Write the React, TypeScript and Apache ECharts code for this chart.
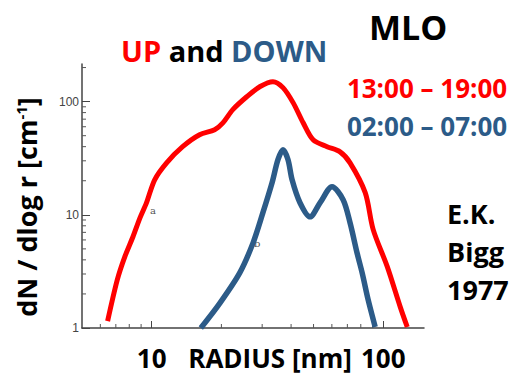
import React, { useEffect, useRef } from "react";
import * as echarts from "echarts";

// UP (13:00 – 19:00) size distribution
const upRadius = [6.45, 7.1, 7.65, 8.3, 8.9, 9.5, 10.3, 11.6, 13.6, 16.1, 18.7, 20.3, 22.4, 25.8, 29.4, 33.4, 36.9, 40.8, 45.1, 49.8, 57.2, 65.1, 71.9, 83.6, 90.5, 104, 118.5, 127];
const upDensity = [1.15, 2.66, 4.25, 6.4, 9.4, 12.8, 20.4, 28.8, 40, 51, 56.5, 65, 85, 111, 136, 150, 133, 98, 65, 46, 40, 36, 28.8, 15.7, 7.4, 3.5, 1.53, 1.02];

// DOWN (02:00 – 07:00) size distribution
const downRadius = [16.3, 19.7, 24.0, 27.4, 30.2, 33.1, 35.1, 36.9, 38.8, 40.4, 43.7, 48.3, 53.4, 60.1, 67.1, 71.9, 77.1, 81.1, 86.1, 92.3];
const downDensity = [1.0, 1.66, 3.07, 5.65, 10.4, 19.2, 30.7, 37.6, 30.7, 20.4, 12.8, 9.6, 12.8, 17.7, 13.6, 8.5, 4.6, 3.07, 1.77, 1.02];

// axes
const xMin = 5;
const xMax = 150;
const yMin = 1;
const yMax = 215;
const xMinorTicks = [6, 7, 8, 9, 20, 30, 40, 50, 60, 70, 80, 90];
const yMinorTicks = [2, 3, 4, 5, 6, 7, 8, 9, 20, 30, 40, 50, 60, 70, 80, 90, 200];

const RED = "#ff0000";
const BLUE = "#2c5b88";
const FONT = "'Open Sans', 'Liberation Sans', sans-serif";

export default function App() {
  const ref = useRef<HTMLDivElement>(null);

  useEffect(() => {
    document.body.style.margin = "0";
    const chart = echarts.init(ref.current!, null, { renderer: "svg" });
    const tickData = [
      ...xMinorTicks.map((v) => [v, yMin, 0]),
      ...yMinorTicks.map((v) => [xMin, v, 1]),
    ];
    chart.setOption({
      animation: false,
      backgroundColor: "#ffffff",
      grid: { left: 82, right: 102, top: 64, bottom: 48, outerBoundsMode: "none" },
      xAxis: {
        type: "log",
        logBase: 10,
        min: xMin,
        max: xMax,
        name: "RADIUS [nm]",
        nameLocation: "middle",
        nameGap: 30,
        nameMoveOverlap: false,
        nameTextStyle: {
          fontFamily: FONT,
          fontWeight: "bold",
          fontSize: 26,
          lineHeight: 26,
          color: "#000",
          verticalAlign: "middle",
          padding: [0, 0, 0, 34],
        },
        axisLine: { lineStyle: { color: "#444", width: 1.5 } },
        axisTick: { inside: true, length: 7, lineStyle: { color: "#444", width: 1 } },
        axisLabel: {
          showMinLabel: false,
          showMaxLabel: false,
          fontFamily: FONT,
          fontWeight: "bold",
          fontSize: 26,
          lineHeight: 26,
          color: "#000",
          verticalAlign: "middle",
          margin: 30,
        },
        splitLine: { show: false },
      },
      yAxis: {
        type: "log",
        logBase: 10,
        min: yMin,
        max: yMax,
        name: "{m|dN / dlog r [cm}{s|-1}{m|]}",
        nameLocation: "middle",
        nameGap: 42,
        nameMoveOverlap: false,
        nameTextStyle: {
          fontFamily: FONT,
          fontWeight: "bold",
          fontSize: 27,
          color: "#000",
          padding: [0, 22, 0, 0],
          rich: {
            m: { fontFamily: FONT, fontWeight: "bold", fontSize: 27, color: "#000" },
            s: { fontFamily: FONT, fontWeight: "bold", fontSize: 15, color: "#000", padding: [0, 0, 12, 0] },
          },
        },
        axisLine: { lineStyle: { color: "#444", width: 1.5 } },
        axisTick: { inside: true, length: 8, lineStyle: { color: "#444", width: 1 } },
        axisLabel: {
          showMaxLabel: false,
          fontFamily: "'Liberation Sans Narrow', 'Liberation Sans', sans-serif",
          fontSize: 12,
          color: "#444",
          margin: 3,
        },
        splitLine: { show: false },
      },
      graphic: [
        {
          type: "text",
          x: 121,
          y: 50,
          style: {
            text: "{r|UP} {k|and} {b|DOWN}",
            fontFamily: FONT,
            fontWeight: "bold",
            fontSize: 29,
            fill: "#000",
            verticalAlign: "middle",
            textVerticalAlign: "middle",
            rich: {
              r: { fill: RED, fontFamily: FONT, fontWeight: "bold", fontSize: 29 },
              k: { fill: "#000", fontFamily: FONT, fontWeight: "bold", fontSize: 29 },
              b: { fill: BLUE, fontFamily: FONT, fontWeight: "bold", fontSize: 29 },
            },
          },
        },
        {
          type: "text",
          x: 369,
          y: 27,
          style: { text: "MLO", fontFamily: FONT, fontWeight: "bold", fontSize: 34, fill: "#000", verticalAlign: "middle", textVerticalAlign: "middle" },
        },
        {
          type: "text",
          x: 427,
          y: 88,
          style: { text: "13:00 – 19:00", fontFamily: FONT, fontWeight: "bold", fontSize: 26, fill: RED, align: "center", textAlign: "center", verticalAlign: "middle", textVerticalAlign: "middle" },
        },
        {
          type: "text",
          x: 427,
          y: 126,
          style: { text: "02:00 – 07:00", fontFamily: FONT, fontWeight: "bold", fontSize: 26, fill: BLUE, align: "center", textAlign: "center", verticalAlign: "middle", textVerticalAlign: "middle" },
        },
        {
          type: "text",
          x: 447,
          y: 213,
          style: { text: "E.K.", fontFamily: FONT, fontWeight: "bold", fontSize: 27, fill: "#000", verticalAlign: "middle", textVerticalAlign: "middle" },
        },
        {
          type: "text",
          x: 447,
          y: 251,
          style: { text: "Bigg", fontFamily: FONT, fontWeight: "bold", fontSize: 27, fill: "#000", verticalAlign: "middle", textVerticalAlign: "middle" },
        },
        {
          type: "text",
          x: 447,
          y: 289,
          style: { text: "1977", fontFamily: FONT, fontWeight: "bold", fontSize: 27, fill: "#000", verticalAlign: "middle", textVerticalAlign: "middle" },
        },
        {
          type: "text",
          x: 150,
          y: 210,
          style: { text: "a", fontFamily: "'DejaVu Serif', serif", fontSize: 10, fill: "#555", verticalAlign: "middle", textVerticalAlign: "middle" },
        },
        {
          type: "text",
          x: 254,
          y: 243,
          style: { text: "b", fontFamily: "'DejaVu Serif', serif", fontSize: 10, fill: "#555", verticalAlign: "middle", textVerticalAlign: "middle" },
        },
      ],
      series: [
        {
          type: "custom",
          coordinateSystem: "cartesian2d",
          silent: true,
          clip: false,
          data: tickData,
          renderItem: (params: any, api: any) => {
            const p = api.coord([api.value(0), api.value(1)]);
            const horizontal = api.value(2) === 1;
            return {
              type: "line",
              shape: horizontal
                ? { x1: p[0], y1: p[1], x2: p[0] + 4, y2: p[1] }
                : { x1: p[0], y1: p[1], x2: p[0], y2: p[1] - 4 },
              style: { stroke: "#555", lineWidth: 1 },
            };
          },
        },
        {
          name: "UP",
          type: "line",
          smooth: 0.3,
          showSymbol: false,
          data: upRadius.map((r, i) => [r, upDensity[i]]),
          lineStyle: { color: RED, width: 5 },
          itemStyle: { color: RED },
        },
        {
          name: "DOWN",
          type: "line",
          smooth: 0.3,
          showSymbol: false,
          data: downRadius.map((r, i) => [r, downDensity[i]]),
          lineStyle: { color: BLUE, width: 5.5 },
          itemStyle: { color: BLUE },
        },
      ],
    });
    return () => chart.dispose();
  }, []);

  return <div ref={ref} style={{ width: 526, height: 376 }} />;
}
